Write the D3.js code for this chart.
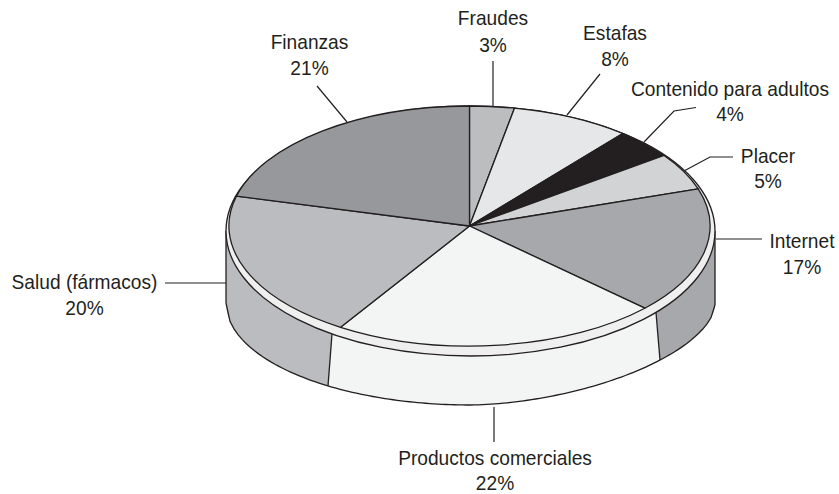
<!DOCTYPE html>
<html><head><meta charset="utf-8">
<script src="https://cdn.jsdelivr.net/npm/d3@7"></script>
<style>html,body{margin:0;background:#fff}svg{display:block}text{font-family:"Liberation Sans",sans-serif;font-size:20.5px;fill:#231f20}</style>
</head><body><div id="c"></div>
<script>
const categories=["Fraudes","Estafas","Contenido para adultos","Placer","Internet","Productos comerciales","Salud (fármacos)","Finanzas"];
const values=[3,8,4,5,17,22,20,21];
const colors=["#bbbdbf","#e6e7e8","#231f20","#d1d3d4","#a7a8ac","#f3f4f4","#bbbcc0","#97989b"];
const W=839,H=494,ink="#231f20";
const svg=d3.select("#c").append("svg").attr("width",W).attr("height",H);

const topFace={cx:469.5,cy:226,rx:240.5,ry:120};
const rim={cx:470.5,cy:231,rx:244.5,ry:125};
// lower edge of the wall: slightly squarer on the left than on the right
const base={cx:470.5,rx:244.5,left:{cy:303,ry:102,p:2},right:{cy:305,ry:100,p:1.73}};
const pie=d3.pie().sort(null).value(d=>d)(values);
const arc=d3.arc().innerRadius(0).outerRadius(1);

const rimY=x=>rim.cy+rim.ry*Math.sqrt(Math.max(0,1-((x-rim.cx)/rim.rx)**2));
const baseY=x=>{
  const s=x>=base.cx?base.right:base.left;
  const u=Math.min(1,Math.abs(x-base.cx)/base.rx);
  return s.cy+s.ry*Math.pow(1-Math.pow(u,s.p),1/s.p);
};
const xEdge=[rim.cx+rim.rx,rim.cx-rim.rx];
const wallSides=[4,5,6];
const wallTopX=[xEdge[0],656,332,xEdge[1]];
const wallBaseX=[xEdge[0],660,328,xEdge[1]];
const line=d3.line();
const run=(a,b,f)=>{
  const sc=d3.scaleLinear().domain([0,1]).range([a,b]);
  return d3.range(0,1.0001,1/120).map(t=>{const x=sc(t);return [x,f(x)];});
};
wallSides.forEach((s,i)=>{
  const a=run(wallTopX[i],wallTopX[i+1],rimY);
  const b=run(wallBaseX[i+1],wallBaseX[i],baseY);
  svg.append("path").attr("d",line(a.concat(b))+"Z").attr("fill",colors[s]);
});
svg.append("path").attr("d",line(run(xEdge[0],xEdge[1],baseY)))
  .attr("fill","none").attr("stroke",ink).attr("stroke-width",1.3);
wallTopX.forEach((x,i)=>{
  svg.append("path").attr("d",line([[x,rimY(x)],[wallBaseX[i],baseY(wallBaseX[i])]]))
    .attr("stroke",ink).attr("stroke-width",1.3).attr("fill","none");
});
svg.append("ellipse").attr("cx",rim.cx).attr("cy",rim.cy).attr("rx",rim.rx).attr("ry",rim.ry)
  .attr("fill","#efefef").attr("stroke",ink).attr("stroke-width",1.3);
svg.append("g").attr("transform",`translate(${topFace.cx},${topFace.cy}) scale(${topFace.rx},${topFace.ry})`)
  .selectAll("path").data(pie).join("path")
  .attr("d",arc).attr("fill",(d,i)=>colors[i])
  .attr("stroke",ink).attr("stroke-width",1.3).attr("vector-effect","non-scaling-stroke")
  .attr("stroke-linejoin","round");

const labelLayout=[
 {x:493,y:[25,52],l:[[493,61],[493,106]]},
 {x:615,y:[40,66],l:[[600,74],[567,115]]},
 {x:730,y:[96,121],l:[[696,107.5],[674,111],[644,142]]},
 {x:768,y:[163,188],l:[[733,157],[710,157],[684,171]]},
 {x:802,y:[248,274],l:[[716,239],[762,239]]},
 {x:495,y:[465,490],l:[[494,407],[494,442]]},
 {x:84.5,y:[289,315],l:[[226,283],[165,283]]},
 {x:309.5,y:[49,75],l:[[347,122],[317,86]]}
];
const narrow=0.935;
const g=svg.append("g");
labelLayout.forEach((p,i)=>{
  g.append("path").attr("d",line(p.l)).attr("fill","none").attr("stroke",ink).attr("stroke-width",1.2);
  [categories[i],values[i]+"%"].forEach((t,k)=>{
    g.append("text").attr("transform",`translate(${p.x},${p.y[k]}) scale(${narrow},1)`)
      .attr("text-anchor","middle").text(t);
  });
});
</script></body></html>
